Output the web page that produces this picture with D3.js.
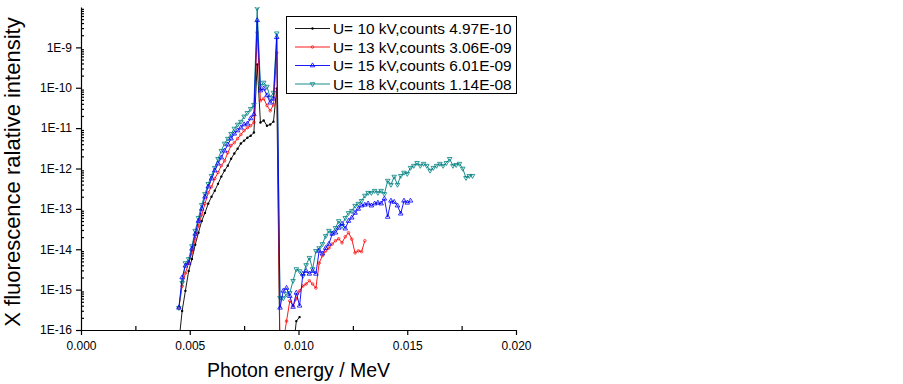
<!DOCTYPE html>
<html>
<head>
<meta charset="utf-8">
<script src="https://cdn.jsdelivr.net/npm/d3@7/dist/d3.min.js"></script>
<style>
  body { margin: 0; background: #fff; }
  svg { font-family: "Liberation Sans", Arial, sans-serif; }
</style>
</head>
<body>
<div id="chart"></div>
<script>
// energy bins (keV), 0.15 keV apart
var energyKeV = [
  4.50,4.65,4.80,4.95,5.10,5.25,5.40,5.55,5.70,5.85,
  6.00,6.15,6.30,6.45,6.60,6.75,6.90,7.05,7.20,7.35,
  7.50,7.65,7.80,7.95,8.10,8.25,8.40,8.55,8.70,8.85,
  9.00,9.15,9.30,9.45,9.60,9.75,9.90,10.05,10.20,10.35,
  10.50,10.65,10.80,10.95,11.10,11.25,11.40,11.55,11.70,11.85,
  12.00,12.15,12.30,12.45,12.60,12.75,12.90,13.05,13.20,13.35,
  13.50,13.65,13.80,13.95,14.10,14.25,14.40,14.55,14.70,14.85,
  15.00,15.15,15.30,15.45,15.60,15.75,15.90,16.05,16.20,16.35,
  16.50,16.65,16.80,16.95,17.10,17.25,17.40,17.55,17.70,17.85,
  18.00
];

// log10 of relative intensity (null = no point)
var log10_U10 = [
  -16.30,-15.53,-15.03,-14.54,-14.24,-13.89,-13.59,-13.30,-13.10,-12.87,
  -12.70,-12.55,-12.38,-12.20,-12.05,-11.93,-11.76,-11.63,-11.51,-11.38,
  -11.31,-11.24,-11.19,-11.11,-9.42,-10.86,-10.81,-10.94,-10.91,-10.84,
  -10.02,-16.80,null,null,null,-16.50,-15.78,-15.68
];
var log10_U13 = [
  -15.45,-14.91,-14.59,-14.34,-14.09,-13.74,-13.42,-13.15,-12.87,-12.60,
  -12.45,-12.25,-12.10,-11.93,-11.81,-11.61,-11.43,-11.36,-11.26,-11.16,
  -11.06,-10.99,-10.94,-10.86,-8.63,-10.32,-10.27,-10.44,-10.57,-10.42,
  -9.13,-16.60,-16.30,-15.78,-15.28,-15.40,-15.23,-15.03,-14.91,-14.86,
  -14.78,-14.86,-14.96,-14.34,-14.16,-14.04,-13.97,-13.87,-13.79,-13.74,
  -13.84,-13.69,-13.59,-13.75,-14.09,-14.04,-14.06,-13.79
];
var log10_U15 = [
  -15.45,-14.70,-14.41,-14.34,-13.99,-13.62,-13.30,-13.00,-12.70,-12.45,
  -12.25,-12.05,-11.88,-11.73,-11.56,-11.41,-11.26,-11.14,-11.06,-10.99,
  -10.91,-10.89,-10.76,-10.66,-8.33,-10.07,-10.02,-10.19,-10.37,-10.27,
  -8.75,-15.45,-15.03,-14.96,-15.16,-15.43,-15.08,-15.40,-14.61,-14.54,
  -14.61,-14.54,-14.61,-14.04,-14.11,-13.97,-13.87,-13.62,-13.59,-13.47,
  -13.37,-13.49,-13.30,-13.22,-13.10,-13.00,-12.92,-12.90,-12.87,-12.92,
  -12.87,-12.85,-12.87,-12.75,-13.20,-12.80,-12.83,-12.92,-13.12,-12.80,
  -12.85,-12.80
];
var log10_U18 = [
  -15.45,-14.83,-14.34,-14.24,-13.92,-13.54,-13.22,-12.90,-12.63,-12.38,
  -12.18,-11.98,-11.76,-11.56,-11.38,-11.26,-11.14,-11.01,-10.91,-10.84,
  -10.71,-10.62,-10.52,-10.42,-8.03,-9.95,-9.87,-9.97,-10.24,-10.12,
  -8.65,-15.20,-15.21,-15.11,-15.08,-14.78,-14.49,-14.54,-14.66,-14.39,
  -14.21,-14.49,-14.04,-13.97,-13.87,-13.67,-13.54,-13.59,-13.47,-13.30,
  -13.42,-13.22,-13.10,-13.05,-12.92,-12.87,-12.80,-12.67,-12.60,-12.60,
  -12.55,-12.60,-12.55,-12.63,-12.30,-12.40,-12.20,-12.40,-12.18,-12.10,
  -12.13,-11.98,-11.93,-11.86,-11.93,-11.88,-11.93,-12.05,-11.98,-11.93,
  -11.88,-11.93,-11.86,-11.76,-11.93,-11.91,-11.88,-12.00,-12.23,-12.18,
  -12.18
];

var legendLabels = [
  "U= 10 kV,counts 4.97E-10",
  "U= 13 kV,counts 3.06E-09",
  "U= 15 kV,counts 6.01E-09",
  "U= 18 kV,counts 1.14E-08"
];
var xTicks = [0, 0.005, 0.010, 0.015, 0.020];
var xMinor = [0.0025, 0.0075, 0.0125, 0.0175];
var yTicks = [1e-16, 1e-15, 1e-14, 1e-13, 1e-12, 1e-11, 1e-10, 1e-9];

var seriesDefs = [
  { name: legendLabels[0], vals: log10_U10, color: "#000000", mark: "dot" },
  { name: legendLabels[1], vals: log10_U13, color: "#ff0000", mark: "circle" },
  { name: legendLabels[2], vals: log10_U15, color: "#0000ff", mark: "up" },
  { name: legendLabels[3], vals: log10_U18, color: "#008080", mark: "down" }
];

var W = 903, H = 384;
var m = { left: 81, top: 7, right: 387, bottom: 54 };
var pw = W - m.left - m.right, ph = H - m.top - m.bottom;

var x = d3.scaleLinear().domain([0, 0.020]).range([m.left, m.left + pw]);
var y = d3.scaleLog().domain([1e-16, 1e-8]).range([m.top + ph, m.top]);

var svg = d3.select("#chart").append("svg").attr("width", W).attr("height", H);

svg.append("clipPath").attr("id", "clip").append("rect")
  .attr("x", m.left).attr("y", m.top).attr("width", pw).attr("height", ph);

// turn each series into points
seriesDefs.forEach(function (s) {
  s.pts = s.vals.map(function (v, i) {
    return v === null ? null : { e: energyKeV[i] / 1000, v: Math.pow(10, v) };
  });
});

var line = d3.line()
  .defined(function (d) { return d !== null; })
  .x(function (d) { return x(d.e); })
  .y(function (d) { return y(d.v); });

function drawMarker(g, kind, color, cx, cy) {
  if (kind === "dot") {
    g.append("circle").attr("cx", cx).attr("cy", cy).attr("r", 1.2).attr("fill", color);
  } else if (kind === "circle") {
    g.append("circle").attr("cx", cx).attr("cy", cy).attr("r", 1.3)
      .attr("fill", "none").attr("stroke", color).attr("stroke-width", 0.7);
  } else {
    var sym = d3.symbol().type(d3.symbolTriangle).size(9);
    g.append("path").attr("d", sym())
      .attr("transform", "translate(" + cx + "," + cy + ")" + (kind === "down" ? " rotate(180)" : ""))
      .attr("fill", "none").attr("stroke", color).attr("stroke-width", 0.8);
  }
}

var plot = svg.append("g").attr("clip-path", "url(#clip)");
// draw order: black, red, teal, blue on top
[0, 1, 3, 2].forEach(function (idx) {
  var s = seriesDefs[idx];
  var g = plot.append("g");
  g.append("path").attr("d", line(s.pts)).attr("fill", "none")
    .attr("stroke", s.color).attr("stroke-width", 0.9).attr("stroke-linejoin", "round");
  s.pts.forEach(function (p) {
    if (p) drawMarker(g, s.mark, s.color, x(p.e), y(p.v));
  });
});

// x axis
var xAxis = svg.append("g").attr("transform", "translate(0," + (m.top + ph) + ")")
  .call(d3.axisBottom(x).tickValues(xTicks).tickFormat(d3.format(".3f")).tickSize(5).tickSizeOuter(0).tickPadding(6));
var xMin = svg.append("g").attr("transform", "translate(0," + (m.top + ph) + ")")
  .call(d3.axisBottom(x).tickValues(xMinor).tickFormat("").tickSize(-4));
xMin.select(".domain").remove();

// y axis
var yAxis = svg.append("g").attr("transform", "translate(" + m.left + ",0)")
  .call(d3.axisLeft(y).tickValues(yTicks)
    .tickFormat(function (d) { return "1E" + Math.round(Math.log10(d)); })
    .tickSize(5).tickSizeOuter(0).tickPadding(4));
var yMinorVals = [];
for (var p = -16; p < -8; p++) {
  for (var k = 2; k <= 9; k++) yMinorVals.push(k * Math.pow(10, p));
}
var yMin = svg.append("g").attr("transform", "translate(" + m.left + ",0)")
  .call(d3.axisLeft(y).tickValues(yMinorVals).tickFormat("").tickSize(-3));
yMin.select(".domain").remove();

svg.selectAll(".tick text").attr("font-size", 12).attr("fill", "#000")
  .attr("font-family", "Liberation Sans, Arial, sans-serif");
svg.selectAll(".domain, .tick line").attr("stroke", "#000").attr("stroke-width", 1.2);

// axis titles
svg.append("text").attr("x", m.left + pw / 2).attr("y", 377).attr("text-anchor", "middle")
  .attr("font-size", 19.5).text("Photon energy / MeV");
svg.append("text").attr("transform", "translate(20,172) rotate(-90)").attr("text-anchor", "middle")
  .attr("font-size", 22).text("X fluorescence ralative intensity");

// legend
var lg = svg.append("g");
lg.append("rect").attr("x", 286.5).attr("y", 16.5).attr("width", 230).attr("height", 77)
  .attr("fill", "#fff").attr("stroke", "#000").attr("stroke-width", 1);
var rowY = [28.5, 47, 65.5, 84];
seriesDefs.forEach(function (s, i) {
  lg.append("line").attr("x1", 295).attr("x2", 330).attr("y1", rowY[i]).attr("y2", rowY[i])
    .attr("stroke", s.color).attr("stroke-width", 0.9);
  drawMarker(lg, s.mark, s.color, 312.5, rowY[i]);
  lg.append("text").attr("x", 333).attr("y", rowY[i] + 5.5).attr("font-size", 15.4)
    .text(s.name);
});
</script>
</body>
</html>
